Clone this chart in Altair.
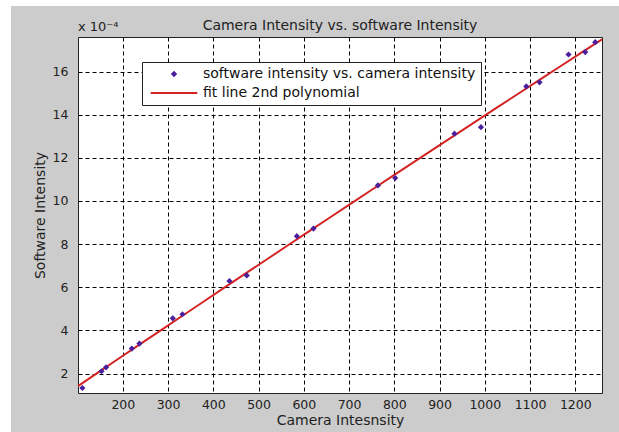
import altair as alt
import pandas as pd

# Camera intensity readings and the matching software intensity (units of 1e-4)
camera_intensity = [110.7, 153, 163, 219.9, 236.7, 310.5, 331.8, 435.7, 474, 584.7,
                    621.4, 763.8, 802, 933, 991.5, 1091.7, 1121, 1185, 1222, 1244]
software_intensity = [1.33, 2.11, 2.29, 3.16, 3.39, 4.56, 4.75, 6.29, 6.55, 8.37,
                      8.72, 10.72, 11.06, 13.12, 13.42, 15.31, 15.5, 16.79, 16.9, 17.36]

x_ticks = [200, 300, 400, 500, 600, 700, 800, 900, 1000, 1100, 1200]
y_ticks = [2, 4, 6, 8, 10, 12, 14, 16]
x_range = [101, 1259]
y_range = [1.1, 17.6]

SERIES_PTS = "software intensity vs. camera intensity"
SERIES_FIT = "fit line 2nd polynomial"
PURPLE = "#4a1f9e"
RED = "#d42323"
FONT = "DejaVu Sans"

pts = pd.DataFrame({"cam": camera_intensity, "sw": software_intensity, "series": SERIES_PTS})

x_enc = alt.X("cam:Q", scale=alt.Scale(domain=x_range, nice=False, zero=False),
              axis=alt.Axis(values=x_ticks, format="d", title="Camera Intesnsity",
                            labelPadding=5, titlePadding=3))
y_enc = alt.Y("sw:Q", scale=alt.Scale(domain=y_range, nice=False, zero=False),
              axis=alt.Axis(values=y_ticks, format="d", title="Software Intensity",
                            labelPadding=10, titlePadding=5))

# legend entries: a small diamond for the samples, a long red stroke for the fit
is_pts = f"datum.value === '{SERIES_PTS}'"
legend = alt.Legend(
    title=None,
    orient="none",
    legendX=64,
    legendY=25,
    padding=5,
    rowPadding=5,
    symbolSize=34,
    symbolType={"expr": f"{is_pts} ? 'M0,-1L1,0L0,1L-1,0Z' : 'M-8,0L8,0'"},
    symbolStrokeWidth={"expr": f"{is_pts} ? 0.5 : 2"},
    symbolOpacity=1,
    symbolOffset=20,
    labelOffset=22,
    labelLimit=500,
    labelFont=FONT,
    labelFontSize=14,
    labelColor="#111111",
    fillColor="white",
    strokeColor="#222222",
)

color = alt.Color("series:N",
                  scale=alt.Scale(domain=[SERIES_PTS, SERIES_FIT], range=[PURPLE, RED]),
                  legend=legend)

points = alt.Chart(pts).mark_point(shape="diamond", filled=True, size=38, opacity=1).encode(
    x=x_enc, y=y_enc, color=color
)

fit = alt.Chart(pts).transform_regression(
    "cam", "sw", method="poly", order=2, extent=x_range
).transform_calculate(series=f"'{SERIES_FIT}'").mark_line(strokeWidth=2).encode(
    x=x_enc, y=y_enc, color=color
)

one_row = alt.Data(values=[{"k": 0}])

# thin white margins on the left and top edges of the figure
strip_left = alt.Chart(one_row).mark_rect(color="white").encode(
    x=alt.value(-78), x2=alt.value(-67), y=alt.value(-37), y2=alt.value(395)
)
strip_top = alt.Chart(one_row).mark_rect(color="white").encode(
    x=alt.value(-78), x2=alt.value(541), y=alt.value(-37), y2=alt.value(-31)
)

exponent = alt.Chart(one_row).mark_text(
    align="left", baseline="alphabetic", font=FONT, fontSize=13, color="#222222"
).encode(x=alt.value(0), y=alt.value(-6), text=alt.value("x 10⁻⁴"))

# the margin strips reach the top edge, so the title is pulled back down with dy
chart = alt.layer(strip_left, strip_top, fit, points, exponent).properties(
    width=524,
    height=356,
    autosize="none",
    padding={"left": 78, "top": 37, "right": 17, "bottom": 39},
    background="#cccccc",
    title=alt.Title("Camera Intensity vs. software Intensity", font=FONT, fontSize=14,
                    fontWeight="normal", color="#222222", offset=0, dy=33,
                    anchor="middle", frame="group"),
).configure_view(
    fill="white", stroke="#222222", strokeWidth=1
).configure_axis(
    grid=True,
    gridColor="#000000",
    gridOpacity=1,
    gridWidth=1,
    gridDash=[4, 3],
    domain=False,
    tickSize=0,
    labelFont=FONT,
    labelFontSize=12.5,
    labelColor="#222222",
    titleFont=FONT,
    titleFontSize=14,
    titleFontWeight="normal",
    titleColor="#222222",
)

chart.save("out.html", embed_options={"renderer": "svg", "actions": False})
